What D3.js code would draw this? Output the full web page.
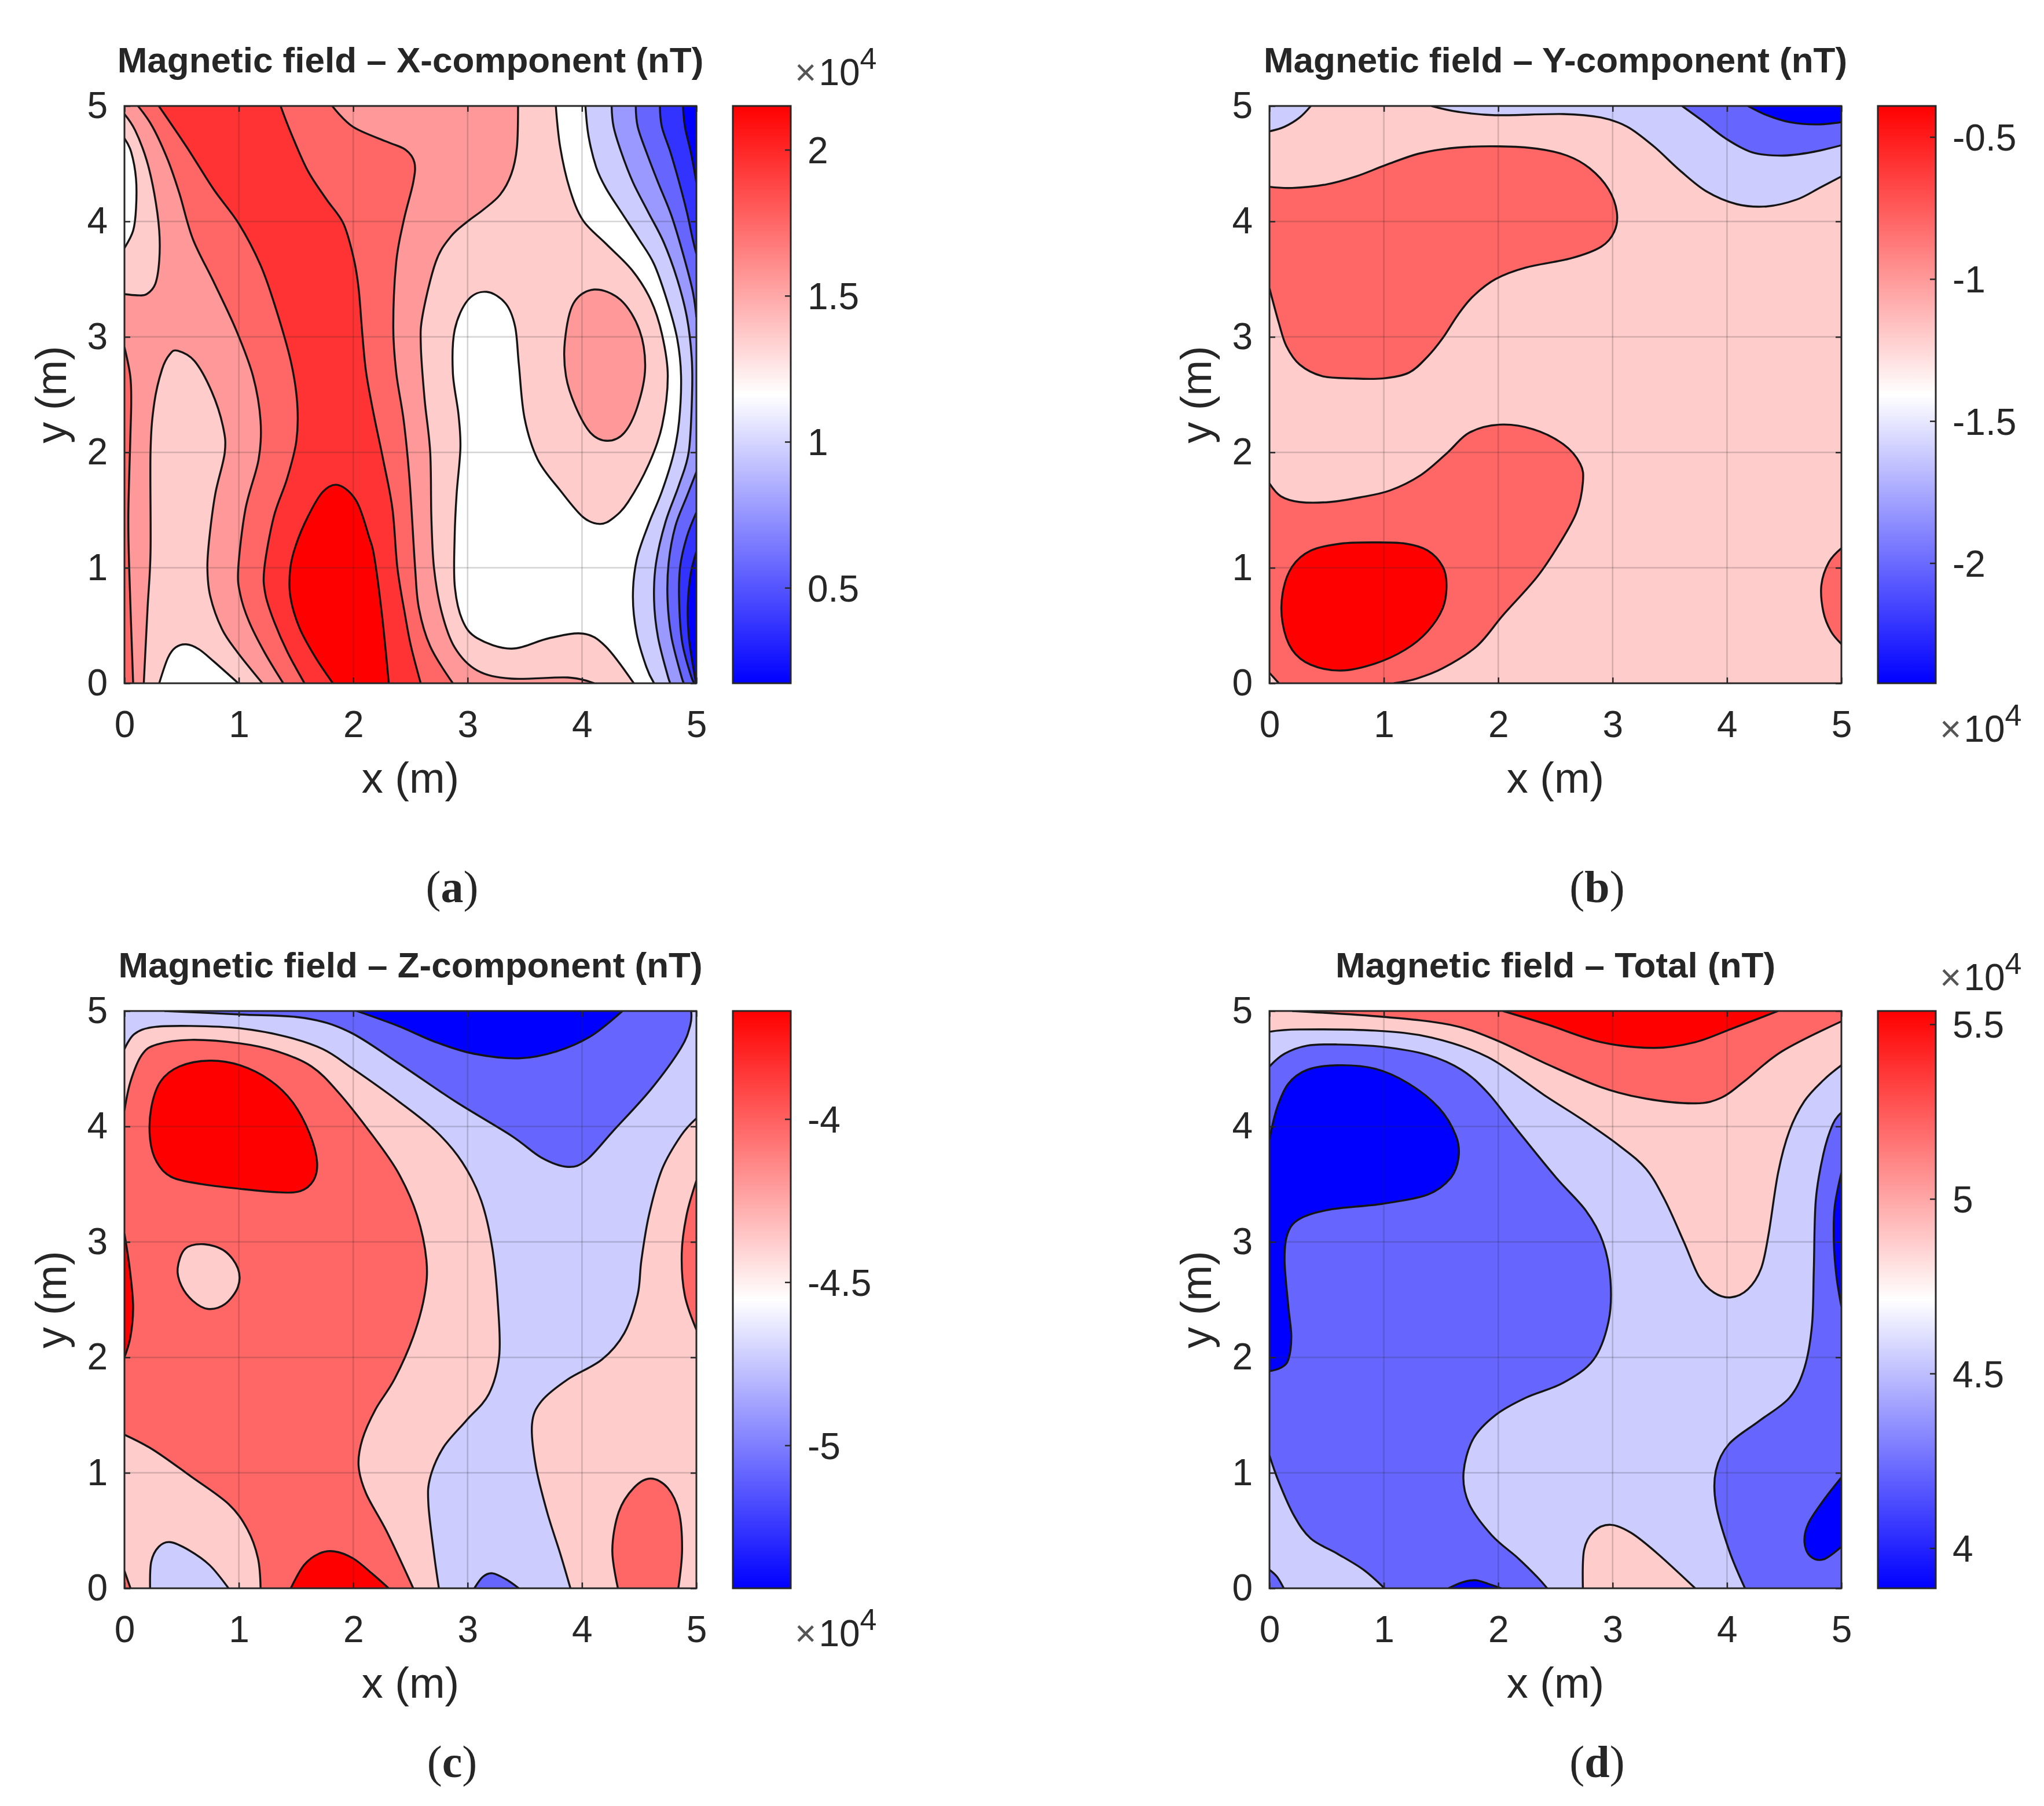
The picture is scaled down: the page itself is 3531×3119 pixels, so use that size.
<!DOCTYPE html>
<html lang="en">

<head>
    <meta charset="UTF-8">
    <title>Magnetic field maps</title>
    <script src="https://d3js.org/d3.v7.min.js"></script>
    <style>
        body { margin: 0; background: #fff; }
        text { font-family: "Liberation Sans", Arial, sans-serif; fill: #262626; }
    </style>
</head>

<body>
    <svg id="chart" width="3531" height="3119"></svg>
    <script>
        const axisTicks = [0, 1, 2, 3, 4, 5];

        // contour band colours, low to high
        const bands11 = ["#0000ff", "#3333ff", "#6666ff", "#9999ff", "#ccccff", "#ffffff", "#ffcccc", "#ff9999", "#ff6666", "#ff3333", "#ff0000"];
        const bands6 = ["#0000ff", "#6666ff", "#ccccff", "#ffcccc", "#ff6666", "#ff0000"];

        // colorbar ranges and ticks, in units of 1e4 nT
        const rangeA = [0.173, 2.15], ticksA = [0.5, 1, 1.5, 2];
        const rangeB = [-2.423, -0.391], ticksB = [-2, -1.5, -1, -0.5];
        const rangeC = [-5.438, -3.669], ticksC = [-5, -4.5, -4];
        const rangeD = [3.885, 5.538], ticksD = [4, 4.5, 5, 5.5];

        // contours, painted in order like contourf patches:
        // [band, isoline points in metres, extra corners that close the patch]
        // null instead of corners means a loop inside the plot
        const contoursA = [
            [6, [[0, 4.93], [.093, 4.79], [.194, 4.53], [.261, 4.24], [.304, 3.92], [.304, 3.66], [.27, 3.46], [.194, 3.37], [.11, 3.36], [0, 3.37]], []],
            [5, [[0, 4.72], [.059, 4.6], [.101, 4.37], [.101, 4.11], [.076, 3.92], [0, 3.77]], []],
            [8, [[0, 2.91], [.051, 2.66], [.059, 2.43], [.051, 2.11], [.034, 1.46], [.042, .98], [.076, 0]], [[0, 0]]],
            [6, [[.169, 0], [.202, .65], [.228, 1.14], [.228, 2.01], [.261, 2.43], [.329, 2.72], [.397, 2.85], [.465, 2.88], [.613, 2.79], [.761, 2.53], [.86, 2.23], [.877, 2], [.794, 1.64], [.742, 1.256], [.725, .997], [.75, .754], [.852, .47], [.987, .27], [1.206, 0]], []],
            [5, [[.304, 0], [.38, .22], [.447, .31], [.54, .337], [.65, .295], [.784, .186], [.995, 0]], []],
            [8, [[.118, 5], [.245, 4.82], [.38, 4.53], [.481, 4.24], [.597, 3.85], [.778, 3.48], [.976, 3.06], [1.124, 2.66], [1.19, 2.27], [1.173, 1.94], [1.058, 1.51], [.995, .997], [1.012, .771], [1.088, .537], [1.223, .27], [1.388, 0]], [[5, 0], [5, 5]]],
            [9, [[.3, 5], [.547, 4.64], [.778, 4.28], [1, 3.98], [1.19, 3.62], [1.322, 3.25], [1.454, 2.79], [1.51, 2.43], [1.503, 2.1], [1.421, 1.77], [1.305, 1.44], [1.223, .997], [1.232, .771], [1.307, .537], [1.425, .27], [1.574, 0]], [[5, 0], [5, 5]]],
            [10, [[1.822, 0], [1.662, .236], [1.527, .487], [1.45, .754], [1.45, .997], [1.5, 1.2], [1.602, 1.44], [1.733, 1.657], [1.872, 1.716], [2.03, 1.574], [2.142, 1.256], [2.185, 1.089], [2.252, .587], [2.311, 0]], []],
            [8, [[1.365, 5], [1.454, 4.77], [1.602, 4.44], [1.767, 4.19], [1.915, 3.98], [2.004, 3.68], [2.047, 3.42], [2.08, 3.02], [2.113, 2.69], [2.179, 2.33], [2.261, 1.94], [2.343, 1.51], [2.386, 1], [2.454, .587], [2.505, .32], [2.59, 0]], [[5, 0], [5, 5]]],
            [7, [[1.816, 5], [1.997, 4.82], [2.294, 4.69], [2.459, 4.62], [2.535, 4.51], [2.525, 4.34], [2.442, 4.01], [2.376, 3.65], [2.35, 3.09], [2.376, 2.69], [2.442, 2.27], [2.492, 1.77], [2.541, 1], [2.574, .65], [2.673, .32], [2.871, 0]], [[5, 0], [5, 5]]],
            [6, [[3.441, 5], [3.431, 4.64], [3.382, 4.41], [3.283, 4.23], [3.135, 4.1], [3, 4], [2.854, 3.87], [2.722, 3.65], [2.607, 3.19], [2.591, 2.92], [2.624, 2.46], [2.673, 2], [2.683, 1.44], [2.706, 1], [2.772, .62], [2.887, .31], [3.085, .11], [3.382, .04], [3.876, .05], [4.107, 0]], [[5, 0], [5, 5]]],
            [5, [[3.771, 5], [3.81, 4.64], [3.893, 4.28], [4.008, 4.01], [4.206, 3.81], [4.436, 3.58], [4.601, 3.32], [4.7, 3.02], [4.75, 2.66], [4.7, 2.23], [4.585, 1.9], [4.403, 1.57], [4.272, 1.43], [4.156, 1.38], [4.008, 1.44], [3.81, 1.67], [3.612, 1.94], [3.497, 2.3], [3.448, 2.76], [3.415, 3.09], [3.332, 3.29], [3.167, 3.39], [3.003, 3.32], [2.887, 3.06], [2.871, 2.69], [2.92, 2.33], [2.937, 2.04], [2.904, 1.64], [2.887, 1.28], [2.887, .85], [2.953, .55], [3.085, .39], [3.382, .3], [3.711, .39], [4.008, .43], [4.206, .32], [4.453, 0]], [[5, 0], [5, 5]]],
            [7, [[4.107, 3.41], [4.338, 3.32], [4.502, 3.06], [4.552, 2.73], [4.486, 2.4], [4.37, 2.17], [4.222, 2.1], [4.074, 2.17], [3.942, 2.4], [3.86, 2.66], [3.85, 2.96], [3.925, 3.29]], null],
            [4, [[4.03, 5], [4.057, 4.74], [4.124, 4.47], [4.208, 4.29], [4.343, 4.08], [4.495, 3.85], [4.63, 3.63], [4.748, 3.3], [4.833, 2.98], [4.866, 2.66], [4.849, 2.27], [4.799, 1.98], [4.698, 1.66], [4.579, 1.37], [4.478, 1.07], [4.445, .75], [4.478, .43], [4.563, .14], [4.63, 0]], [[5, 0], [5, 5]]],
            [3, [[4.259, 5], [4.276, 4.82], [4.343, 4.6], [4.445, 4.34], [4.579, 4.08], [4.714, 3.82], [4.832, 3.5], [4.917, 3.17], [4.959, 2.82], [4.962, 2.5], [4.934, 2.01], [4.849, 1.72], [4.731, 1.4], [4.647, 1.04], [4.63, .72], [4.664, .4], [4.748, .07], [4.773, 0]], [[5, 0], [5, 5]]],
            [2, [[4.47, 5], [4.487, 4.82], [4.563, 4.6], [4.664, 4.34], [4.782, 4.05], [4.883, 3.72], [4.967, 3.4], [5, 3.17]], [[5, 5]]],
            [2, [[5, 1.83], [4.917, 1.62], [4.816, 1.36], [4.757, 1.04], [4.748, .72], [4.782, .4], [4.866, .07], [4.891, 0]], [[5, 0]]],
            [1, [[4.681, 5], [4.698, 4.82], [4.773, 4.6], [4.849, 4.34], [4.917, 4.08], [4.967, 3.85], [5, 3.72]], [[5, 5]]],
            [1, [[5, 1.48], [4.917, 1.27], [4.858, 1.01], [4.849, .72], [4.875, .36], [4.951, .07], [4.984, 0]], [[5, 0]]],
            [0, [[4.883, 5], [4.9, 4.82], [4.951, 4.6], [5, 4.34]], [[5, 5]]],
            [0, [[5, 1.14], [4.951, .95], [4.925, .68], [4.934, .4], [4.984, .07], [5, 0]], []]
        ];

        const contoursB = [
            [2, [[.362, 5], [.264, 4.9], [.132, 4.82], [0, 4.78]], [[0, 5]]],
            [2, [[1.416, 5], [1.647, 4.95], [1.976, 4.92], [2.569, 4.93], [2.898, 4.9], [3.129, 4.82], [3.36, 4.65], [3.59, 4.44], [3.82, 4.26], [4.084, 4.15], [4.348, 4.13], [4.611, 4.19], [4.809, 4.29], [5, 4.39]], [[5, 5]]],
            [1, [[3.607, 5], [3.788, 4.87], [3.986, 4.72], [4.216, 4.6], [4.48, 4.57], [4.743, 4.6], [5, 4.66]], [[5, 5]]],
            [0, [[4.183, 5], [4.348, 4.92], [4.546, 4.86], [4.776, 4.84], [5, 4.86]], [[5, 5]]],
            [4, [[0, 4.3], [.198, 4.29], [.494, 4.32], [.757, 4.39], [1.021, 4.49], [1.318, 4.59], [1.647, 4.64], [2.01, 4.65], [2.338, 4.63], [2.602, 4.57], [2.8, 4.46], [2.964, 4.28], [3.037, 4.08], [3.014, 3.91], [2.899, 3.78], [2.635, 3.68], [2.24, 3.6], [1.976, 3.5], [1.779, 3.35], [1.647, 3.19], [1.515, 2.99], [1.383, 2.83], [1.219, 2.69], [.988, 2.64], [.725, 2.64], [.461, 2.66], [.264, 2.76], [.148, 2.92], [.082, 3.12], [0, 3.42]], []],
            [4, [[0, 1.73], [.099, 1.62], [.264, 1.57], [.527, 1.57], [.791, 1.61], [1.054, 1.67], [1.318, 1.8], [1.548, 1.99], [1.746, 2.17], [2.01, 2.24], [2.306, 2.2], [2.569, 2.07], [2.717, 1.9], [2.74, 1.74], [2.684, 1.48], [2.536, 1.21], [2.339, .92], [2.042, .59], [1.812, .32], [1.515, .13], [1.285, .04], [1.087, 0]], [[0, 0]]],
            [3, [[0, .09], [.082, 0]], [[0, 0]]],
            [5, [[.922, 1.22], [1.186, 1.21], [1.383, 1.15], [1.515, 1.01], [1.548, .85], [1.515, .65], [1.383, .45], [1.186, .29], [.922, .17], [.626, .11], [.362, .16], [.198, .29], [.115, .52], [.115, .78], [.198, 1.01], [.362, 1.15], [.626, 1.21]], null],
            [4, [[5, 1.17], [4.891, 1.05], [4.825, .85], [4.842, .62], [4.908, .45], [5, .34]], []]
        ];

        const contoursC = [
            [1, [[.349, 5], [1.009, 4.97], [1.569, 4.94], [1.964, 4.82], [2.393, 4.55], [2.887, 4.22], [3.382, 3.92], [3.645, 3.73], [3.876, 3.65], [4.041, 3.71], [4.272, 3.96], [4.601, 4.32], [4.865, 4.68], [4.947, 4.88], [4.954, 5]], []],
            [0, [[2.03, 5], [2.393, 4.87], [2.722, 4.73], [3.052, 4.63], [3.448, 4.59], [3.777, 4.65], [4.074, 4.78], [4.354, 5]], []],
            [3, [[0, 4.67], [.086, 4.8], [.25, 4.86], [.58, 4.87], [1.009, 4.85], [1.404, 4.78], [1.734, 4.67], [1.997, 4.5], [2.393, 4.22], [2.722, 3.96], [2.953, 3.69], [3.118, 3.36], [3.217, 2.94], [3.266, 2.44], [3.276, 2.01], [3.184, 1.68], [2.986, 1.45], [2.788, 1.22], [2.673, .96], [2.657, .73], [2.706, .3], [2.749, 0]], [[0, 0]]],
            [4, [[0, 4.14], [.053, 4.39], [.152, 4.62], [.283, 4.71], [.58, 4.75], [1.009, 4.72], [1.338, 4.65], [1.635, 4.52], [1.866, 4.3], [2.163, 3.93], [2.393, 3.6], [2.558, 3.23], [2.64, 2.84], [2.624, 2.54], [2.525, 2.18], [2.36, 1.81], [2.195, 1.55], [2.08, 1.29], [2.047, 1.06], [2.113, .82], [2.294, .49], [2.525, 0]], [[0, 0]]],
            [3, [[0, 1.33], [.25, 1.2], [.58, .97], [.91, .73], [1.075, .51], [1.167, .26], [1.19, 0]], [[0, 0]]],
            [4, [[0, .15], [.053, 0]], [[0, 0]]],
            [2, [[.224, 0], [.234, .23], [.3, .36], [.399, .4], [.564, .33], [.745, .2], [.91, 0]], []],
            [5, [[.745, 4.57], [1.009, 4.53], [1.272, 4.4], [1.47, 4.21], [1.618, 3.94], [1.684, 3.69], [1.651, 3.53], [1.536, 3.44], [1.338, 3.43], [1.009, 3.46], [.679, 3.5], [.415, 3.56], [.283, 3.69], [.224, 3.89], [.234, 4.16], [.316, 4.39], [.481, 4.52]], null],
            [3, [[.695, 2.98], [.877, 2.92], [.992, 2.77], [.992, 2.61], [.877, 2.46], [.728, 2.42], [.597, 2.49], [.498, 2.62], [.465, 2.77], [.531, 2.94]], null],
            [5, [[0, 3.07], [.046, 2.77], [.076, 2.44], [.053, 2.18], [0, 2]], []],
            [5, [[1.454, 0], [1.569, .2], [1.7, .3], [1.833, .32], [1.997, .26], [2.162, .13], [2.31, 0]], []],
            [1, [[3.059, 0], [3.134, .1], [3.217, .13], [3.332, .08], [3.448, 0]], []],
            [3, [[5, 4.07], [4.865, 3.92], [4.7, 3.63], [4.585, 3.23], [4.519, 2.84], [4.486, 2.54], [4.37, 2.21], [4.173, 1.98], [3.876, 1.81], [3.645, 1.62], [3.563, 1.42], [3.596, 1.06], [3.695, .66], [3.81, .3], [3.899, 0]], [[5, 0]]],
            [4, [[4.314, 0], [4.265, .33], [4.321, .66], [4.453, .87], [4.601, .95], [4.749, .87], [4.848, .66], [4.875, .33], [4.842, 0]], []],
            [4, [[5, 3.53], [4.914, 3.23], [4.872, 2.9], [4.898, 2.54], [5, 2.24]], []]
        ];

        const contoursD = [
            [3, [[0, 4.82], [.264, 4.84], [.922, 4.83], [1.416, 4.77], [1.91, 4.6], [2.404, 4.27], [2.734, 4.06], [3.063, 3.83], [3.294, 3.63], [3.458, 3.36], [3.623, 3], [3.755, 2.7], [3.887, 2.56], [4.035, 2.52], [4.183, 2.59], [4.298, 2.77], [4.364, 3.07], [4.447, 3.6], [4.545, 3.96], [4.677, 4.22], [4.842, 4.4], [5, 4.53]], [[5, 5], [0, 5]]],
            [4, [[.198, 5], [.988, 4.95], [1.581, 4.88], [1.976, 4.75], [2.404, 4.55], [2.899, 4.34], [3.294, 4.24], [3.722, 4.2], [3.953, 4.25], [4.15, 4.39], [4.48, 4.65], [5, 4.91]], [[5, 5]]],
            [5, [[2.042, 5], [2.437, 4.88], [2.899, 4.73], [3.36, 4.68], [3.722, 4.73], [4.051, 4.85], [4.447, 5]], []],
            [1, [[0, 4.52], [.132, 4.63], [.329, 4.7], [.593, 4.71], [.988, 4.69], [1.383, 4.62], [1.68, 4.49], [1.91, 4.29], [2.174, 3.96], [2.503, 3.56], [2.767, 3.27], [2.915, 3], [2.981, 2.67], [2.964, 2.31], [2.833, 1.98], [2.569, 1.78], [2.24, 1.65], [1.976, 1.5], [1.779, 1.29], [1.696, .99], [1.746, .73], [1.943, .46], [2.174, .26], [2.339, .1], [2.428, 0]], [[0, 0]]],
            [2, [[0, 1.15], [.082, .92], [.214, .63], [.362, .43], [.593, .3], [.823, .16], [1.005, 0]], [[0, 0]]],
            [1, [[0, .16], [.066, .1], [.125, 0]], [[0, 0]]],
            [0, [[1.565, 0], [1.68, .05], [1.795, .07], [1.91, .04], [2.026, 0]], []],
            [0, [[0, 3.89], [.066, 4.16], [.165, 4.37], [.329, 4.49], [.593, 4.53], [.922, 4.5], [1.219, 4.37], [1.482, 4.16], [1.63, 3.92], [1.653, 3.73], [1.581, 3.55], [1.383, 3.41], [.988, 3.33], [.527, 3.28], [.264, 3.2], [.158, 3.07], [.132, 2.84], [.165, 2.44], [.191, 2.18], [.165, 1.98], [.099, 1.91], [0, 1.88]], []],
            [1, [[4.157, 0], [4.018, .33], [3.903, .73], [3.903, 1.02], [4.018, 1.25], [4.282, 1.45], [4.545, 1.65], [4.677, 1.91], [4.743, 2.28], [4.759, 2.77], [4.776, 3.36], [4.842, 3.76], [4.925, 4.02], [5, 4.12]], [[5, 0]]],
            [0, [[5, 3.6], [4.941, 3.3], [4.934, 3], [4.957, 2.7], [5, 2.44]], []],
            [0, [[5, .96], [4.842, .76], [4.71, .56], [4.677, .4], [4.726, .28], [4.842, .25], [5, .36]], []],
            [3, [[2.74, 0], [2.75, .33], [2.833, .49], [2.981, .55], [3.162, .48], [3.393, .3], [3.722, 0]], []]
        ];

        const svg = d3.select("#chart");
        const plotW = 988, plotH = 997;
        const tickColor = "#262626";

        function draw_panel(id, left, top, title, letter, contours, bands, barBg, barRange, barTicks, expY, letterY) {
            const x = d3.scaleLinear().domain([0, 5]).range([left, left + plotW]);
            const y = d3.scaleLinear().domain([0, 5]).range([top + plotH, top]);

            const openLine = d3.line().x(d => x(d[0])).y(d => y(d[1])).curve(d3.curveCatmullRom.alpha(0));
            const loopLine = d3.line().x(d => x(d[0])).y(d => y(d[1])).curve(d3.curveCatmullRomClosed.alpha(0));

            svg.append("clipPath").attr("id", "clip" + id)
                .append("rect").attr("x", left).attr("y", top).attr("width", plotW).attr("height", plotH);

            const g = svg.append("g").attr("clip-path", `url(#clip${id})`);
            g.append("rect").attr("x", left).attr("y", top).attr("width", plotW).attr("height", plotH)
                .attr("fill", bands[barBg]);

            contours.forEach(c => {
                const closed = c[2] === null;
                const d = closed ? loopLine(c[1]) : openLine(c[1]);
                const tail = closed ? "" : c[2].map(p => `L${x(p[0])},${y(p[1])}`).join("") + "Z";
                g.append("path").attr("d", d + tail).attr("fill", bands[c[0]]);
                g.append("path").attr("d", d).attr("fill", "none")
                    .attr("stroke", "#141414").attr("stroke-width", 3.4);
            });

            // grid sits on top of the fills
            axisTicks.slice(1, -1).forEach(t => {
                g.append("line").attr("x1", x(t)).attr("x2", x(t)).attr("y1", top).attr("y2", top + plotH)
                    .attr("stroke", tickColor).attr("stroke-opacity", 0.2).attr("stroke-width", 2.5);
                g.append("line").attr("y1", y(t)).attr("y2", y(t)).attr("x1", left).attr("x2", left + plotW)
                    .attr("stroke", tickColor).attr("stroke-opacity", 0.2).attr("stroke-width", 2.5);
            });

            const style_axis = a => {
                a.select(".domain").remove();
                a.selectAll("line").attr("stroke", tickColor).attr("stroke-width", 2.5);
                a.selectAll("text").style("font-size", "64px").style("font-family", '"Liberation Sans"').attr("fill", tickColor);
            };

            svg.append("g").attr("transform", `translate(0,${top + plotH})`)
                .call(d3.axisBottom(x).tickValues(axisTicks).tickFormat(d3.format("d")).tickSizeInner(-10).tickSizeOuter(0).tickPadding(48))
                .call(style_axis);
            svg.append("g").attr("transform", `translate(${left},0)`)
                .call(d3.axisLeft(y).tickValues(axisTicks).tickFormat(d3.format("d")).tickSizeInner(-10).tickSizeOuter(0).tickPadding(29))
                .call(style_axis);
            svg.append("g").attr("transform", `translate(0,${top})`)
                .call(d3.axisTop(x).tickValues(axisTicks).tickFormat("").tickSizeInner(-10).tickSizeOuter(0))
                .call(style_axis);
            svg.append("g").attr("transform", `translate(${left + plotW},0)`)
                .call(d3.axisRight(y).tickValues(axisTicks).tickFormat("").tickSizeInner(-10).tickSizeOuter(0))
                .call(style_axis);

            svg.append("rect").attr("x", left).attr("y", top).attr("width", plotW).attr("height", plotH)
                .attr("fill", "none").attr("stroke", tickColor).attr("stroke-width", 3);

            svg.append("text").attr("x", left + plotW / 2).attr("y", top - 58)
                .attr("text-anchor", "middle").style("font-size", "62px").style("font-weight", "bold").attr("fill", "#1a1a1a")
                .text(title);
            svg.append("text").attr("x", left + plotW / 2).attr("y", top + plotH + 189)
                .attr("text-anchor", "middle").style("font-size", "74px").text("x (m)");
            svg.append("text").attr("transform", `translate(${left - 101},${top + plotH / 2}) rotate(-90)`)
                .attr("text-anchor", "middle").style("font-size", "74px").text("y (m)");

            // colorbar
            const barX = left + plotW + 63, barW = 100;
            const barScale = d3.scaleLinear().domain(barRange).range([top + plotH, top]);
            const barMid = (barRange[0] + barRange[1]) / 2;
            const barColor = d3.scaleLinear().domain([barRange[0], barMid, barRange[1]]).range(["#0000ff", "#ffffff", "#ff0000"]);
            const grad = svg.append("linearGradient").attr("id", "grad" + id)
                .attr("x1", 0).attr("x2", 0).attr("y1", 1).attr("y2", 0);
            barColor.domain().forEach((v, i) => {
                grad.append("stop").attr("offset", i / 2).attr("stop-color", barColor(v));
            });
            svg.append("rect").attr("x", barX).attr("y", top).attr("width", barW).attr("height", plotH)
                .attr("fill", `url(#grad${id})`).attr("stroke", tickColor).attr("stroke-width", 3);
            svg.append("g").attr("transform", `translate(${barX + barW},0)`)
                .call(d3.axisRight(barScale).tickValues(barTicks).tickFormat(d => String(d)).tickSizeInner(-10).tickSizeOuter(0).tickPadding(29))
                .call(style_axis)
                .selectAll("text").attr("dy", "0.36em");

            const exp = svg.append("text").attr("x", left + plotW + 170).attr("y", expY).style("font-size", "64px");
            exp.append("tspan").text("\u00d7").attr("fill", "#555");
            exp.append("tspan").text("10").attr("dx", 4);
            exp.append("tspan").text("4").attr("dy", -28).style("font-size", "52px");

            const lab = svg.append("text").attr("x", left + plotW / 2 + 72).attr("y", letterY)
                .attr("text-anchor", "middle").style("font-family", '"Liberation Serif"').style("font-size", "78px").attr("fill", "#000");
            lab.append("tspan").text("(");
            lab.append("tspan").text(letter).style("font-weight", "bold");
            lab.append("tspan").text(")");
        }

        draw_panel("a", 215, 183, "Magnetic field \u2013 X-component (nT)", "a", contoursA, bands11, 7, rangeA, ticksA, 147, 1558);
        draw_panel("b", 2193, 183, "Magnetic field \u2013 Y-component (nT)", "b", contoursB, bands6, 3, rangeB, ticksB, 1281, 1558);
        draw_panel("c", 215, 1746, "Magnetic field \u2013 Z-component (nT)", "c", contoursC, bands6, 2, rangeC, ticksC, 2843, 3069);
        draw_panel("d", 2193, 1746, "Magnetic field \u2013 Total (nT)", "d", contoursD, bands6, 2, rangeD, ticksD, 1710, 3069);
    </script>
</body>

</html>
